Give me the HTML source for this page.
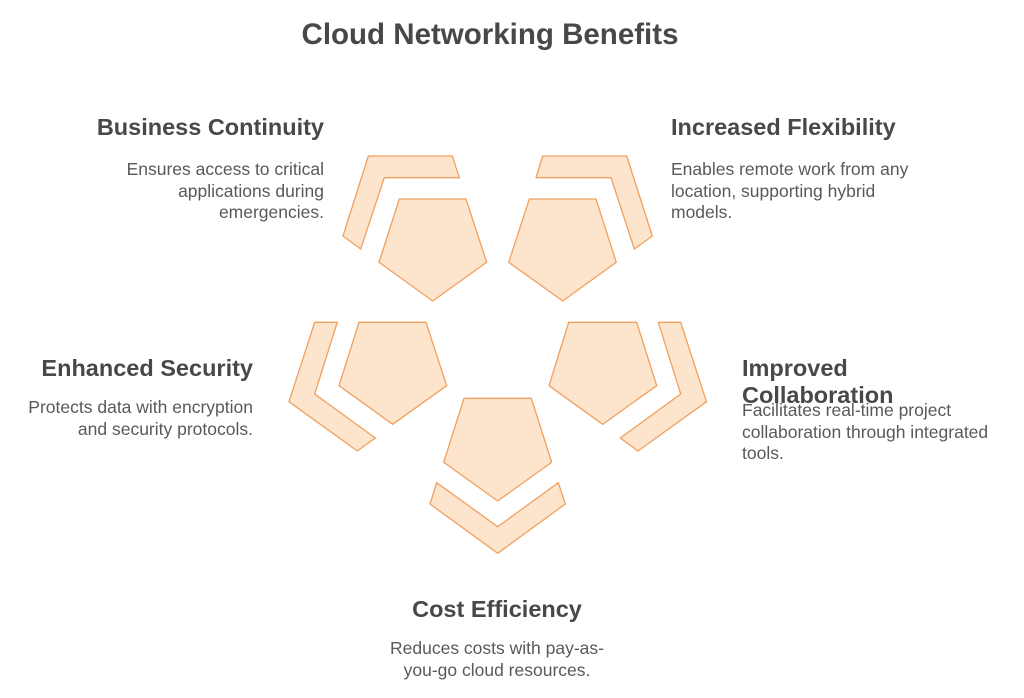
<!DOCTYPE html>
<html><head><meta charset="utf-8"><style>
body{margin:0;width:1024px;height:698px;background:#fff;position:relative;overflow:hidden;font-family:"Liberation Sans",sans-serif}
.t{position:absolute;white-space:nowrap}
.h{font-weight:bold;font-size:23.5px;color:#484848;line-height:27px}
.b{font-size:17.5px;color:#595959;line-height:21.5px}
.r{text-align:right}.c{text-align:center}
</style></head><body>
<svg width="1024" height="698" style="position:absolute;left:0;top:0">
<g fill="#fce4cd" stroke="#f0a060" stroke-width="1.3" stroke-linejoin="miter">
<polygon points="399.3,199 466,199 486.7,262.3 432.7,301 379,262.3"/>
<polygon points="368.3,156 452.3,156 459.3,177.7 384.3,177.7 360.7,249 343,236"/>
<polygon points="529.3,199 596,199 616.3,262.3 562.7,301 508.7,262.3"/>
<polygon points="542.7,156 626.7,156 652.3,236 634.3,249 611,177.7 536,177.7"/>
<polygon points="359,322.3 426,322.3 446.7,385.7 392.7,424.3 339,385.7"/>
<polygon points="314.7,322.3 337.3,322.3 314.7,394 375.3,438 357.3,451 289,401.7"/>
<polygon points="568.7,322.3 636.7,322.3 656.7,385.7 602.7,424.3 549,385.7"/>
<polygon points="658.3,322.3 680.7,322.3 706.5,401.7 638,451 620.3,438 680.7,394"/>
<polygon points="464,398.3 531.3,398.3 551.7,462.3 497.7,501 443.7,462.3"/>
<polygon points="436.7,482.7 497.7,526.7 558.3,482.7 565.3,504 497.7,553.3 430,504"/>
</g></svg>
<div class="t c" style="left:240px;width:500px;top:18px;font-size:29.5px;font-weight:bold;color:#484848">Cloud Networking Benefits</div>
<div class="t h r" style="right:700px;top:114px">Business Continuity</div>
<div class="t b r" style="right:700px;top:159px">Ensures access to critical<br>applications during<br>emergencies.</div>
<div class="t h" style="left:671px;top:114px">Increased Flexibility</div>
<div class="t b" style="left:671px;top:159px">Enables remote work from any<br>location, supporting hybrid<br>models.</div>
<div class="t h r" style="right:771px;top:355px">Enhanced Security</div>
<div class="t b r" style="right:771px;top:397px">Protects data with encryption<br>and security protocols.</div>
<div class="t h" style="left:742px;top:355px">Improved<br>Collaboration</div>
<div class="t b" style="left:742px;top:400px">Facilitates real-time project<br>collaboration through integrated<br>tools.</div>
<div class="t h c" style="left:347px;width:300px;top:596px">Cost Efficiency</div>
<div class="t b c" style="left:347px;width:300px;top:638px">Reduces costs with pay-as-<br>you-go cloud resources.</div>
</body></html>
